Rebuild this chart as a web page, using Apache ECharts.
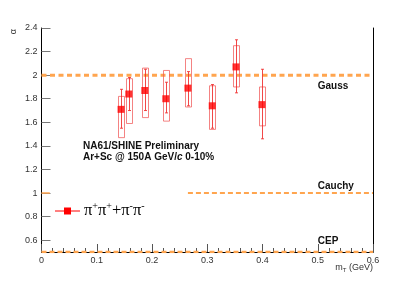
<!DOCTYPE html>
<html><head><meta charset="utf-8">
<script src="https://cdn.jsdelivr.net/npm/echarts@6/dist/echarts.min.js"></script>
<style>html,body{margin:0;padding:0;background:#fff}#c{width:415px;height:281px}</style>
</head><body><div id="c"></div>
<script>
// ---- data ----
const mT       = [0.144, 0.158, 0.187, 0.225, 0.265, 0.309, 0.352, 0.399];
const alpha    = [1.71, 1.84, 1.87, 1.80, 1.89, 1.74, 2.07, 1.75];
const statLow  = [1.55, 1.70, 1.70, 1.68, 1.74, 1.55, 1.85, 1.46];
const statHigh = [1.88, 1.98, 2.05, 1.94, 2.03, 1.92, 2.30, 2.05];
const sysLow   = [1.47, 1.59, 1.64, 1.61, 1.73, 1.54, 1.90, 1.57];
const sysHigh  = [1.82, 1.97, 2.06, 2.04, 2.14, 1.91, 2.25, 1.90];
const yTicks   = [0.6, 0.8, 1.0, 1.2, 1.4, 1.6, 1.8, 2.0, 2.2, 2.4];
const gaussLine  = [[0, 2], [0.6, 2]];
const cauchyLine = [[0.265, 1], [0.6, 1]];
const cauchyStub = [[0, 1], [0.015, 1]];
const cepLine    = [[0, 0.5], [0.6, 0.5]];
const refLabels  = [
  {text: 'Gauss', x: 0.5, y: 1.91},
  {text: 'Cauchy', x: 0.5, y: 1.06},
  {text: 'CEP', x: 0.5, y: 0.59}
];
const seriesName = 'π+π++π-π-';

const ORANGE = '#ffa54f';
const RED = '#ff0000';
const BOX = 'rgba(240,90,90,0.75)';

const chart = echarts.init(document.getElementById('c'), null, {renderer: 'canvas'});
const errData = mT.map((x, i) => [x, alpha[i], statLow[i], statHigh[i], sysLow[i], sysHigh[i]]);

const option = {
  animation: false,
  backgroundColor: '#fff',
  grid: {left: 41.5, right: 42, top: 28, bottom: 29},
  xAxis: {
    type: 'value', min: 0, max: 0.6, interval: 0.1,
    axisLine: {show: true, onZero: false, lineStyle: {color: '#000', width: 1}},
    axisTick: {show: true, inside: true, length: 8, lineStyle: {color: '#555'}},
    minorTick: {show: true, splitNumber: 5, length: 4, lineStyle: {color: '#555'}},
    axisLabel: {color: '#333', fontSize: 9, fontFamily: 'Liberation Sans', margin: 4},
    splitLine: {show: false}
  },
  yAxis: [{
    type: 'value', min: 0.5, max: 2.4,
    axisLine: {show: true, onZero: false, lineStyle: {color: '#000', width: 1}},
    axisTick: {show: true, inside: true, length: 9, customValues: yTicks, lineStyle: {color: '#777'}},
    axisLabel: {color: '#333', fontSize: 9, fontFamily: 'Liberation Sans', margin: 4, customValues: yTicks,
      formatter: v => (Math.abs(v - 1) < 1e-9 ? '1' : Math.abs(v - 2) < 1e-9 ? '2' : String(+v.toFixed(1)))},
    splitLine: {show: false}
  }, {
    type: 'value', min: 0.5, max: 2.4, position: 'right',
    axisLine: {show: true, onZero: false, lineStyle: {color: '#000', width: 1}},
    axisTick: {show: false}, axisLabel: {show: false}, splitLine: {show: false}
  }],
  series: [
    {type: 'line', data: gaussLine, symbol: 'none', silent: true, z: 1,
      lineStyle: {color: ORANGE, width: 3, type: [5, 3.5]}},
    {type: 'line', data: cauchyLine, symbol: 'none', silent: true, z: 1,
      lineStyle: {color: ORANGE, width: 2, type: [5, 3]}},
    {type: 'line', data: cauchyStub, symbol: 'none', silent: true, z: 1,
      lineStyle: {color: ORANGE, width: 1.5}},
    {type: 'line', data: cepLine, symbol: 'none', silent: true, z: 3,
      lineStyle: {color: ORANGE, width: 2.5, type: [5, 3]}},
    {
      type: 'custom', name: seriesName, data: errData, z: 4,
      renderItem: function (params, api) {
        const x = api.value(0);
        const sLo = api.coord([x, api.value(2)]);
        const sHi = api.coord([x, api.value(3)]);
        const bLo = api.coord([x, api.value(4)]);
        const bHi = api.coord([x, api.value(5)]);
        const cx = Math.round(sLo[0]) + 0.5;
        const hw = 3;
        return {type: 'group', children: [
          {type: 'rect', shape: {x: cx - hw, y: bHi[1], width: 2 * hw, height: bLo[1] - bHi[1]},
            style: {fill: 'none', stroke: BOX, lineWidth: 1}},
          {type: 'line', shape: {x1: cx, y1: sLo[1], x2: cx, y2: sHi[1]},
            style: {stroke: 'rgba(240,40,40,0.85)', lineWidth: 1}},
          {type: 'line', shape: {x1: cx - 1.5, y1: sLo[1], x2: cx + 1.5, y2: sLo[1]},
            style: {stroke: 'rgba(240,40,40,0.85)', lineWidth: 1}},
          {type: 'line', shape: {x1: cx - 1.5, y1: sHi[1], x2: cx + 1.5, y2: sHi[1]},
            style: {stroke: 'rgba(240,40,40,0.85)', lineWidth: 1}}
        ]};
      }
    },
    {type: 'scatter', data: mT.map((x, i) => [x, alpha[i]]), symbol: 'rect', symbolSize: 7, z: 5,
      itemStyle: {color: RED}}
  ]
};
chart.setOption(option);

const g = [];
refLabels.forEach(l => {
  const p = chart.convertToPixel({gridIndex: 0}, [l.x, l.y]);
  g.push({type: 'text', x: p[0], y: p[1], style: {text: l.text, fill: '#111', font: 'bold 10px "Liberation Sans"', textVerticalAlign: 'middle'}});
});
g.push({type: 'text', x: 83, y: 146, style: {text: 'NA61/SHINE Preliminary', fill: '#111', font: 'bold 10px "Liberation Sans"', textVerticalAlign: 'middle'}});
g.push({type: 'text', x: 83, y: 157.5, style: {
  text: '{b|Ar+Sc @ 150A GeV/}{i|c}{b| 0-10%}',
  textVerticalAlign: 'middle',
  rich: {b: {fill: '#111', font: 'bold 10px "Liberation Sans"'}, i: {fill: '#111', font: 'italic bold 10px "Liberation Sans"'}}
}});
// legend
g.push({type: 'line', shape: {x1: 55, y1: 211, x2: 80, y2: 211}, style: {stroke: RED, lineWidth: 1}});
g.push({type: 'rect', shape: {x: 64, y: 207.5, width: 7, height: 7}, style: {fill: RED}});
g.push({type: 'text', x: 84, y: 211, style: {
  text: '{p|π}{s|+}{p|π}{s|+}{p|+π}{s|-}{p|π}{s|-}',
  textVerticalAlign: 'middle',
  rich: {p: {fill: '#000', font: '16.5px "Liberation Serif"'}, s: {fill: '#000', font: '10px "Liberation Serif"', verticalAlign: 'top', padding: [0, 0, 9, 0]}}
}});
// axis titles
g.push({type: 'text', x: 14, y: 29, rotation: Math.PI / 2, style: {text: 'α', fill: '#333', font: '9px "Liberation Sans"', textAlign: 'right', textVerticalAlign: 'middle'}});
g.push({type: 'text', x: 373, y: 268, style: {
  text: '{n|m}{s|T}{n| (GeV)}', textAlign: 'right', textVerticalAlign: 'middle',
  rich: {n: {fill: '#333', font: '9px "Liberation Sans"'}, s: {fill: '#333', font: '6px "Liberation Sans"', padding: [5, 0, 0, 0]}}
}});
chart.setOption({graphic: g});
</script>
</body></html>
